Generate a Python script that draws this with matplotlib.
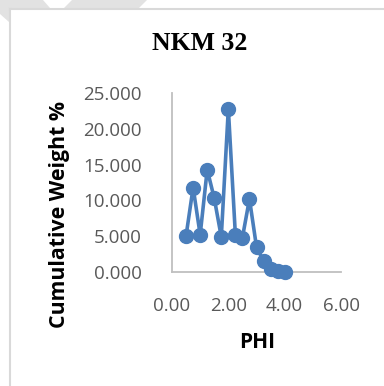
import matplotlib
matplotlib.use("Agg")
import matplotlib.pyplot as plt
from matplotlib.patches import Polygon
from matplotlib.lines import Line2D

# Grain-size distribution for sample NKM 32
phi = [0.50, 0.75, 1.00, 1.25, 1.50, 1.75, 2.00, 2.25, 2.50, 2.75, 3.00, 3.25, 3.50, 3.75, 4.00]
weight = [5.07, 11.8, 5.2, 14.3, 10.3, 4.9, 22.8, 5.2, 4.8, 10.2, 3.5, 1.5, 0.4, 0.15, 0.05]

x_ticks = [0, 2, 4, 6]
y_ticks = [0, 5, 10, 15, 20, 25]

W, H = 384, 386
fig = plt.figure(figsize=(W / 100, H / 100), dpi=100)
fig.patch.set_facecolor("white")


def px(x, y):
    return (x / W, 1 - y / H)


# light grey decoration behind the chart frame
grey = "#e2e2e2"
shapes = [
    [(0, 0), (43, 0), (50, 8), (9, 8), (9, 22), (0, 14)],
    [(72, 0), (147, 0), (139, 8), (64, 8)],
]
for pts in shapes:
    fig.patches.append(Polygon([px(*p) for p in pts], closed=True,
                               transform=fig.transFigure, facecolor=grey,
                               edgecolor="none", zorder=0))

# chart frame border
frame_c = "#d9d9d9"
fig.lines.append(Line2D([9.5 / W, 9.5 / W], [1 - 8.5 / H, 0], transform=fig.transFigure,
                        color=frame_c, linewidth=1.5))
fig.lines.append(Line2D([9.5 / W, 1], [1 - 8.5 / H, 1 - 8.5 / H], transform=fig.transFigure,
                        color=frame_c, linewidth=1.5))

ax = fig.add_axes([172 / W, 1 - 272 / H, (341 - 172) / W, (272 - 93) / H])
ax.plot(phi, weight, color="#4a7ebb", linewidth=2.6, marker="o",
        markersize=10, markerfacecolor="#4a7ebb", markeredgecolor="#4a7ebb",
        clip_on=False, zorder=3)

ax.set_xlim(0, 6)
ax.set_ylim(0, 25)
ax.set_xticks(x_ticks)
ax.set_yticks(y_ticks)
ax.set_xticklabels([f"{v:.2f}" for v in x_ticks])
ax.set_yticklabels([f"{v:.3f}" for v in y_ticks])

for lbl in ax.get_xticklabels() + ax.get_yticklabels():
    lbl.set_fontfamily("Open Sans")
    lbl.set_fontsize(13.5)
    lbl.set_color("#595959")

ax.tick_params(axis="both", length=0)
ax.tick_params(axis="y", pad=22)
ax.tick_params(axis="x", pad=18)

for s in ["top", "right"]:
    ax.spines[s].set_visible(False)
for s in ["left", "bottom"]:
    ax.spines[s].set_color("#bfbfbf")
    ax.spines[s].set_linewidth(1.3)

fig.text(200 / W, 1 - 44 / H, "NKM 32", ha="center", va="center",
         family="Liberation Serif", weight="bold", fontsize=18.5, color="black")
fig.text(257 / W, 1 - 343 / H, "PHI", ha="center", va="center",
         family="Open Sans", weight="bold", fontsize=15, color="black")
fig.text(59 / W, 1 - 215 / H, "Cumulative Weight %", ha="center", va="center",
         rotation=90, family="Open Sans", weight="bold", fontsize=15.3, color="black")

fig.savefig("out.png", dpi=100, facecolor="white")
